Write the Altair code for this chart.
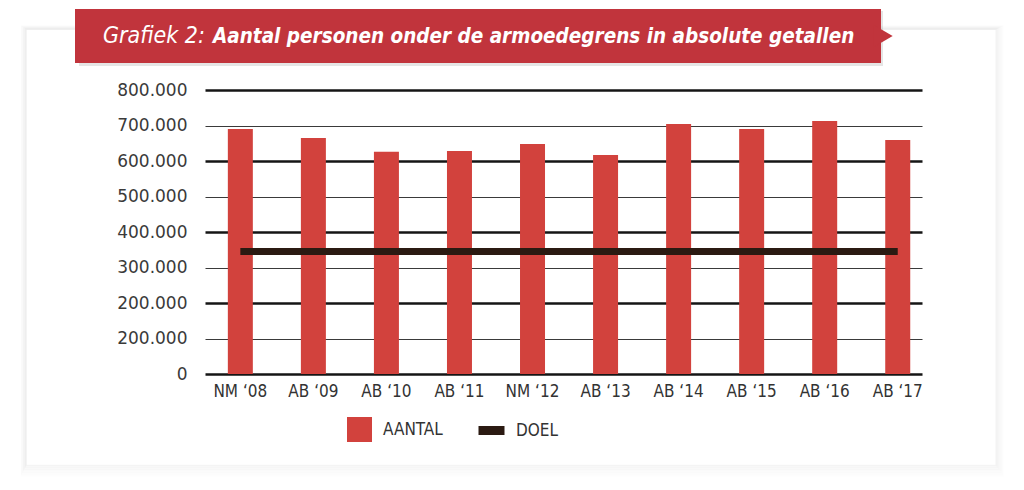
import altair as alt
import pandas as pd

categories = ["NM \u201808", "AB \u201809", "AB \u201810", "AB \u201811", "NM \u201812",
              "AB \u201813", "AB \u201814", "AB \u201815", "AB \u201816", "AB \u201817"]
aantal = [690000, 665000, 626000, 628000, 648000, 617000, 704000, 690000, 713000, 659000]
doel = [345000, 345000, 345000, 345000, 345000, 345000, 345000, 345000, 345000, 345000]
y_ticks = [0, 100000, 200000, 300000, 400000, 500000, 600000, 700000, 800000]
y_tick_labels = ["0", "200.000", "200.000", "300.000", "400.000", "500.000",
                 "600.000", "700.000", "800.000"]
series = ["AANTAL", "DOEL"]
title_prefix = "Grafiek 2:"
title_main = "Aantal personen onder de armoedegrens in absolute getallen"

RED = "#d2423d"
DARK = "#2b1a12"
BANNER = "#c1343c"
LABEL_FONT = "DejaVu Sans Condensed"
TITLE_FONT = "DejaVu Sans Condensed"

bars_df = pd.DataFrame({"cat": categories, "value": aantal, "serie": series[0]})
doel_df = pd.DataFrame({"cat": categories, "value": doel, "serie": series[1]})

label_expr = "[" + ",".join(f"'{l}'" for l in y_tick_labels) + "][round(datum.value/100000)]"

x_enc = alt.X("cat:N", sort=categories, title=None,
              scale=alt.Scale(paddingInner=0.658, paddingOuter=0.237, align=0.66),
              axis=alt.Axis(labelAngle=0, ticks=False, domain=False, labelPadding=9,
                            labelFont=LABEL_FONT, labelFontSize=17, labelColor="#333333",
                            grid=False))
y_enc = alt.Y("value:Q", title=None,
              scale=alt.Scale(domain=[0, 800000], nice=False, zero=True),
              axis=alt.Axis(values=y_ticks, labelExpr=label_expr, ticks=False, domain=False,
                            labelPadding=18, labelFont="DejaVu Sans", labelFontSize=17,
                            labelColor="#3a3a3a", grid=True,
                            gridColor={"condition": {"test": "datum.value % 200000 === 0", "value": "#151515"}, "value": "#3a3a3a"},
                            gridWidth={"condition": {"test": "datum.value % 200000 === 0", "value": 2.3}, "value": 1.2}))

fill_enc = alt.Fill("serie:N", scale=alt.Scale(domain=[series[0]], range=[RED]),
                    legend=alt.Legend(title=None, orient="none", legendX=142, legendY=327,
                                      symbolType="square", symbolSize=625,
                                      symbolOpacity=1, symbolStrokeWidth=0,
                                      labelFont=LABEL_FONT, labelFontSize=17,
                                      labelColor="#333333", labelOffset=11, padding=0))
stroke_enc = alt.Stroke("serie:N", scale=alt.Scale(domain=[series[1]], range=[DARK]),
                        legend=alt.Legend(title=None, orient="none", legendX=269, legendY=323,
                                          symbolType="stroke", symbolSize=676,
                                          symbolStrokeWidth=9, symbolOpacity=1,
                                          labelFont=LABEL_FONT, labelFontSize=17,
                                          labelColor="#333333", labelOffset=7, padding=0))

bars = alt.Chart(bars_df).mark_bar(size=25, opacity=1).encode(x=x_enc, y=y_enc, fill=fill_enc)
line = alt.Chart(doel_df).mark_line(strokeWidth=7, strokeCap="butt", opacity=1).encode(
    x=x_enc, y=y_enc, stroke=stroke_enc)

one = pd.DataFrame({"k": [0]})

# soft card shadow rings (around the white card)
shadow_layers = []
for i in range(1, 10):
    shadow_layers.append(
        alt.Chart(one).mark_rect(fill=None, stroke="#000000", strokeWidth=1.2,
                                 strokeOpacity=0.045 * (10 - i) / 9).encode(
            x=alt.value(-178 - i * 0.7), x2=alt.value(790 + i),
            y=alt.value(-60 - i * 0.5), y2=alt.value(374 + i * 1.4))
    )

banner_shadow = alt.Chart(one).mark_rect(fill="#000000", opacity=0.1).encode(
    x=alt.value(-126), x2=alt.value(678), y=alt.value(-79), y2=alt.value(-24))
banner = alt.Chart(one).mark_rect(fill=BANNER).encode(
    x=alt.value(-130), x2=alt.value(676), y=alt.value(-81), y2=alt.value(-27))
banner_tip = alt.Chart(one).mark_point(shape="triangle-right", filled=True, fill=BANNER,
                                       opacity=1, size=500).encode(
    x=alt.value(678), y=alt.value(-54))

t1 = alt.Chart(one).mark_text(text=title_prefix, font=TITLE_FONT, fontStyle="italic",
                              fontWeight="normal", fontSize=23, color="#ffffff",
                              align="left", baseline="alphabetic").encode(
    x=alt.value(-102), y=alt.value(-47))
t2 = alt.Chart(one).mark_text(text=title_main, font=TITLE_FONT, fontStyle="italic",
                              fontWeight="bold", fontSize=20.5, color="#ffffff",
                              align="left", baseline="alphabetic").encode(
    x=alt.value(8), y=alt.value(-47))

chart = alt.layer(*shadow_layers, banner_shadow, banner, banner_tip, t1, t2, bars, line).properties(
    width=717, height=284,
    padding={"left": 205, "top": 90, "right": 102, "bottom": 116},
    autosize=alt.AutoSizeParams(type="none"),
    background="#ffffff",
).configure_view(stroke=None)

chart.save("out.html", embed_options={"renderer": "svg", "actions": False})
